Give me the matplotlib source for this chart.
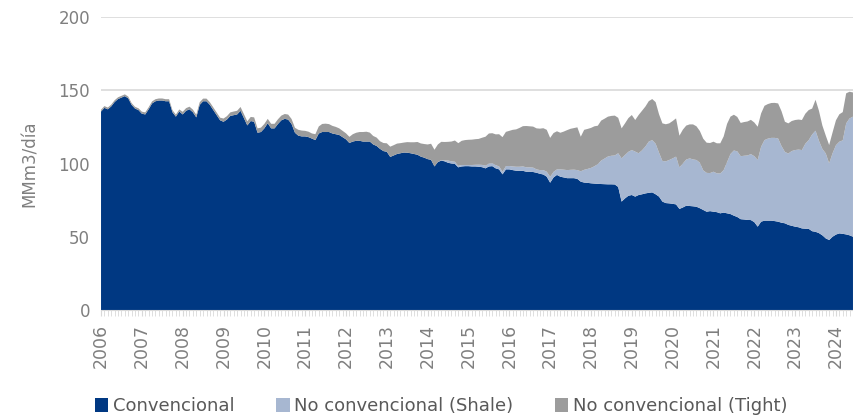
import numpy as np
import matplotlib
matplotlib.use('Agg')
import matplotlib.pyplot as plt
from matplotlib.patches import Patch

# monthly gas production, MMm3/dia, Jan 2006 - Jun 2024
years = list(range(2006, 2025))

convencional = [
    135.5, 138, 137, 139, 142, 144, 145, 146, 144.5, 140, 137.5, 136.5,   # 2006
    134, 133.5, 137, 141, 142.5, 143, 143, 142.5, 142.5, 135, 132, 135.5,  # 2007
    133.5, 136, 137, 135, 131.5, 140, 142.5, 142.5, 140, 136.5, 133, 129.5,  # 2008
    128.5, 130, 132.5, 133, 133.5, 136, 131, 126, 129, 128.5, 121, 121.5,  # 2009
    124, 127.5, 124, 124, 127, 129.5, 130.5, 130, 127, 121, 119, 118.5,  # 2010
    118.5, 118, 117, 116, 120.5, 121.5, 121.5, 121.5, 120.5, 120, 119.5, 118,  # 2011
    116.5, 114, 115, 115.5, 115.5, 115, 115, 115, 113, 112, 110, 108.5,  # 2012
    108, 104.5, 105.5, 106.5, 107, 107.5, 107.4, 107, 106.5, 106, 104.7, 104,  # 2013
    103, 102.5, 98, 101, 102, 101.5, 100.5, 100, 99.7, 97.4, 98, 98.2,  # 2014
    98.2, 98, 98, 97.8, 97.5, 96.7, 98, 98.2, 96.7, 96, 92.6, 96,  # 2015
    96, 95.5, 95.1, 95, 95, 94.4, 94.4, 94.2, 93.7, 93, 92.5, 91,  # 2016
    86.9, 90.5, 92.2, 91, 90.5, 90, 90, 90, 89.5, 87.6, 87, 86.8,  # 2017
    86.5, 86.3, 86.1, 86, 85.9, 85.8, 85.8, 85.7, 84, 74, 76.2, 78,  # 2018
    78.5, 77.4, 78.5, 79, 79.6, 80, 80.3, 79, 77.4, 74, 73, 72.8,  # 2019
    72.5, 72.1, 69, 70, 71.2, 71, 70.8, 70.5, 69.5, 68.3, 67.1, 67.5,  # 2020
    67.1, 66.8, 66, 66.5, 66, 65.5, 64.4, 63.5, 62, 61.8, 61.5, 61.4,  # 2021
    60, 56.9, 60.3, 61, 61, 61, 60.7, 60.3, 59.6, 59.2, 58.1, 57.5,  # 2022
    56.9, 56.5, 55.7, 55.5, 55.4, 53.8, 53.4, 52.5, 51, 48.9, 47.8, 50,  # 2023
    51.5, 52.3, 52, 51.6, 51, 50,  # 2024
]

shale = [
    0, 0, 0, 0, 0, 0, 0, 0, 0, 0, 0, 0,  # 2006
    0, 0, 0, 0, 0, 0, 0, 0, 0, 0, 0, 0,  # 2007
    0, 0, 0, 0, 0, 0, 0, 0, 0, 0, 0, 0,  # 2008
    0, 0, 0, 0, 0, 0, 0, 0, 0, 0, 0, 0,  # 2009
    0, 0, 0, 0, 0, 0, 0, 0, 0, 0, 0, 0,  # 2010
    0, 0, 0, 0, 0, 0, 0, 0, 0, 0, 0, 0,  # 2011
    0, 0, 0, 0, 0, 0, 0, 0, 0, 0, 0, 0,  # 2012
    0, 0, 0, 0, 0, 0, 0, 0, 0, 0, 0, 0,  # 2013
    0, 0, 0, 0, 0.3, 0.6, 1.5, 1.5, 1.5, 1, 1, 0.8,  # 2014
    0.8, 1, 1.2, 1.5, 1.6, 1.8, 2, 2, 2.2, 2, 1.8, 2.2,  # 2015
    2.3, 2.5, 2.7, 2.8, 3, 3, 3, 3, 2.3, 2.5, 3, 3.4,  # 2016
    4, 3.8, 3.8, 5, 5.3, 5.5, 5.7, 5.8, 6, 7.1, 8.7, 9.5,  # 2017
    10.5, 11.8, 13.5, 16, 17.5, 19, 19.5, 19.8, 23, 29.5, 29.6, 30,  # 2018
    30.7, 30.7, 28.5, 30, 32, 35, 35.7, 34.5, 30, 27.7, 28.5, 29.6,  # 2019
    31, 32.6, 28.4, 30, 31.5, 32.5, 32, 31.9, 31, 27, 26.5, 26,  # 2020
    27.3, 26.5, 27.2, 29, 35, 41, 44.5, 44.8, 43, 43.5, 44, 45,  # 2021
    45, 45.5, 51.2, 55, 56, 56.5, 56.8, 56.8, 52.3, 48.7, 48.7, 51,  # 2022
    52.3, 53, 53.5, 58, 60.6, 66, 69, 63, 59, 58, 52.3, 57,  # 2023
    61, 62.6, 63.8, 75.8, 79.8, 82,  # 2024
]

tight = [
    1.2, 1.2, 1.2, 1.2, 1.2, 1.2, 1.2, 1.2, 1.2, 1.2, 1.2, 1.2,  # 2006
    1.4, 1.4, 1.4, 1.4, 1.4, 1.4, 1.4, 1.4, 1.4, 1.4, 1.4, 1.4,  # 2007
    1.8, 1.8, 1.8, 1.8, 1.8, 1.8, 1.8, 1.8, 1.8, 1.8, 1.8, 1.8,  # 2008
    2.2, 2.3, 2.4, 2.5, 2.5, 2.6, 2.7, 2.8, 2.8, 3, 3, 3,  # 2009
    3, 3, 3.1, 3.1, 3.2, 3.2, 3.3, 3.4, 3.4, 3.4, 4, 4,  # 2010
    3.8, 3.7, 3.5, 4, 4.8, 5.5, 5.7, 5.4, 5.2, 5, 4.5, 4.3,  # 2011
    4.1, 4.2, 5, 5.5, 6, 6.5, 6.7, 6.1, 5.8, 5.7, 5.2, 5.5,  # 2012
    5.8, 7, 7, 7.1, 6.9, 6.8, 7.2, 7.5, 8, 8.7, 9, 9.3,  # 2013
    10, 11, 11.4, 12, 12.5, 12.6, 12.8, 13.5, 14.5, 15.5, 16.5, 17,  # 2014
    17.2, 17.3, 17.4, 17.5, 18.5, 19.8, 20.5, 20.5, 21, 22, 23.6, 23.4,  # 2015
    24, 25, 25.5, 26.5, 27.5, 28.2, 28, 28, 28, 28.3, 28.6, 28.6,  # 2016
    26.6, 26.5, 26, 25, 26, 27.3, 28, 28.4, 29.2, 23.6, 27.3, 27.3,  # 2017
    27.3, 27.3, 26.2, 27.3, 27.2, 27.2, 27.2, 27.2, 24.2, 20.5, 21.6, 23,  # 2018
    23.9, 21.6, 26.1, 27, 27.3, 27.6, 28, 28.4, 26.2, 25.7, 25.3, 25,  # 2019
    25.5, 26.1, 21.6, 23.1, 23.2, 23.2, 23.9, 23, 21.7, 21.6, 20.6, 20.5,  # 2020
    20.5, 20.5, 20.6, 23, 26.1, 25.5, 24.4, 23.5, 22.7, 23, 23.2, 23.4,  # 2021
    23, 22.7, 22.7, 23.4, 23.6, 23.8, 23.9, 23.9, 23.8, 20.6, 20.6, 20.5,  # 2022
    20.5, 20.5, 20.5, 20.5, 20.5, 17.7, 21.1, 20.5, 16, 12.2, 12.5, 14.2,  # 2023
    17, 18.7, 19.3, 20.5, 18.2, 16.5,  # 2024
]

labels = ['Convencional', 'No convencional (Shale)', 'No convencional (Tight)']
colors = ['#003882', '#a7b7d1', '#9c9c9c']

months = np.arange(len(convencional))

fig = plt.figure(figsize=(8.54, 4.19), dpi=100)
ax = fig.add_axes([0.1183, 0.2601, 0.8805, 0.6993])

ax.stackplot(months, convencional, shale, tight, colors=colors, linewidth=0, zorder=2)

ax.set_xlim(0, len(convencional) - 1)
ax.set_ylim(0, 200)
ax.set_yticks([0, 50, 100, 150, 200])
ax.yaxis.grid(True, color='#d9d9d9', linewidth=1.2, zorder=0)
ax.set_axisbelow(True)

ax.set_xticks([12 * i for i in range(len(years))])
ax.set_xticklabels([str(y) for y in years], rotation=90, va='top', ha='center')
ax.set_xticks(months, minor=True)

for s in ['top', 'right', 'left']:
    ax.spines[s].set_visible(False)
ax.spines['bottom'].set_color('#d9d9d9')

ax.tick_params(axis='y', length=0, labelsize=12, colors='#7f7f7f', pad=8)
ax.tick_params(axis='x', which='major', length=4, color='#d9d9d9', labelsize=12.5,
               labelcolor='#7f7f7f', pad=6)
ax.tick_params(axis='x', which='minor', length=4, color='#d9d9d9')

ax.set_ylabel('MMm3/día', fontsize=12, color='#7f7f7f', labelpad=14)

handles = [Patch(facecolor=c, edgecolor='none') for c in colors]
fig.legend(handles, labels, loc='lower left', bbox_to_anchor=(0.092, -0.03), ncol=3,
           frameon=False, fontsize=13, labelcolor='#595959', handlelength=0.75,
           handleheight=0.75, handletextpad=0.25, columnspacing=2.3)

fig.savefig('out.png', dpi=100)
